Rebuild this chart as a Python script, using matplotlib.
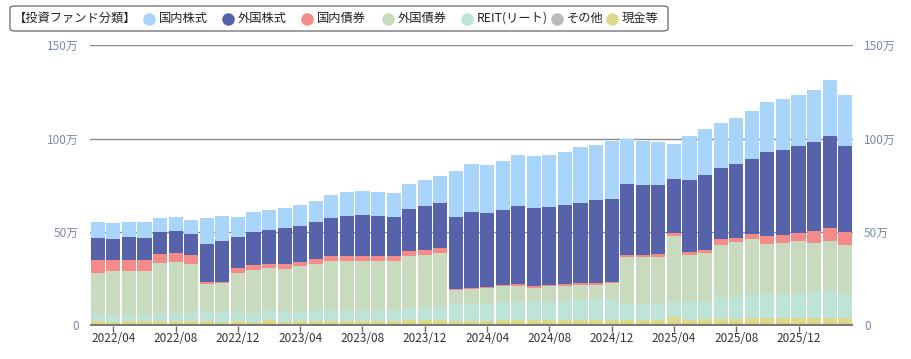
import numpy as np
import matplotlib
import matplotlib.pyplot as plt
from matplotlib.patches import FancyBboxPatch
from matplotlib.lines import Line2D

plt.rcParams['font.family'] = ['Noto Sans CJK JP', 'DejaVu Sans']

# months 2022/03 .. 2026/03
months = []
for y in range(2022, 2027):
    for m in range(1, 13):
        if (y, m) >= (2022, 3) and (y, m) <= (2026, 3):
            months.append("%d/%02d" % (y, m))

# values in 万円, bottom -> top
cash = [2.2, 2.1, 2.2, 2.2, 2.2, 2.2, 2.4, 2.5, 2.1, 2.4, 2.1, 3.1, 2.1, 2.4, 2.4, 2.4,
        2.4, 2.4, 2.2, 2.2, 2.8, 3.0, 2.8, 2.4, 2.6, 2.6, 3.0, 3.0, 2.8, 2.8, 3.0, 3.1,
        2.8, 2.8, 3.0, 3.0, 3.0, 4.8, 3.0, 3.3, 3.3, 3.3, 3.9, 4.0, 4.0, 4.0, 4.0, 4.0, 4.0]
other = [0.0] * 49
reit = [4.0, 3.5, 3.4, 3.4, 4.5, 4.5, 4.5, 4.7, 4.9, 4.5, 4.6, 5.1, 5.2, 4.7, 5.4, 5.8,
        5.8, 5.9, 6.0, 6.0, 6.4, 6.2, 7.0, 9.2, 9.1, 9.1, 9.6, 9.6, 9.8, 9.8, 10.2, 10.8,
        10.7, 10.7, 8.7, 8.7, 8.6, 8.4, 9.3, 9.0, 11.7, 11.8, 12.3, 12.9, 12.9, 13.5, 13.8, 14.2, 13.1]
foreign_bond = [21.7, 23.4, 23.7, 23.7, 26.7, 27.3, 26.2, 15.2, 15.5, 21.1, 22.8, 22.4, 23.1, 24.5, 25.3, 26.3,
                26.3, 26.4, 26.5, 26.3, 28.2, 28.7, 29.0, 7.5, 7.7, 8.1, 8.3, 8.6, 7.7, 8.3, 7.7, 7.5,
                8.3, 9.0, 24.9, 25.1, 25.2, 34.9, 25.2, 26.3, 28.3, 29.3, 29.8, 26.9, 27.1, 27.8, 26.2, 27.1, 26.2]
domestic_bond = [7.3, 6.2, 5.9, 5.9, 5.0, 5.0, 4.8, 0.6, 1.0, 2.7, 2.7, 2.5, 2.7, 2.5, 2.3, 2.5,
                 2.5, 2.7, 2.7, 2.7, 2.7, 2.7, 2.9, 0.4, 0.6, 0.7, 0.9, 1.1, 0.9, 0.9, 1.1, 1.1,
                 1.0, 0.9, 1.1, 1.1, 1.3, 1.6, 1.8, 2.0, 2.7, 2.6, 3.0, 4.0, 4.3, 4.3, 6.3, 6.8, 6.5]
foreign_stock = [11.7, 10.9, 12.0, 11.5, 11.5, 11.4, 11.1, 20.7, 21.5, 16.5, 17.7, 17.9, 18.8, 19.0, 19.7, 20.6,
                 21.3, 21.5, 20.9, 20.8, 22.2, 23.3, 24.0, 38.5, 40.7, 39.4, 39.9, 41.8, 41.6, 41.6, 42.6, 43.2,
                 44.3, 44.4, 38.2, 37.5, 37.1, 28.9, 38.4, 39.8, 38.1, 39.3, 40.3, 45.1, 45.3, 46.2, 47.6, 49.4, 46.4]
domestic_stock = [8.2, 8.5, 8.4, 8.4, 7.4, 7.4, 7.2, 13.6, 13.8, 10.6, 10.6, 10.6, 10.7, 11.1, 11.3, 12.0,
                  12.9, 12.9, 12.9, 12.7, 13.2, 13.8, 14.1, 24.5, 25.6, 25.9, 26.2, 27.0, 27.8, 27.7, 28.1, 29.7,
                  29.4, 30.9, 23.8, 23.3, 22.9, 18.5, 23.7, 24.7, 24.2, 24.7, 25.5, 26.7, 27.6, 27.6, 28.2, 30.0, 27.2]

series = [
    ("現金等", cash, "#ddd98a"),
    ("その他", other, "#bbbbbb"),
    ("REIT(リート)", reit, "#bde4d7"),
    ("外国債券", foreign_bond, "#c9dbbe"),
    ("国内債券", domestic_bond, "#f58b88"),
    ("外国株式", foreign_stock, "#5663ab"),
    ("国内株式", domestic_stock, "#aad5fb"),
]
legend_order = ["国内株式", "外国株式", "国内債券", "外国債券", "REIT(リート)", "その他", "現金等"]

fig = plt.figure(figsize=(9.11, 3.59), dpi=100)
ax = fig.add_axes([90/911, (359-325.5)/359, (853-90)/911, (325.5-45)/359])

x = np.arange(len(months))
bottom = np.zeros(len(months))
for name, vals, col in series:
    vals = np.array(vals)
    ax.bar(x, vals, bottom=bottom, width=0.9, color=col, linewidth=0, zorder=3)
    bottom += vals

ax.set_xlim(-0.5, len(months) - 0.5)
ax.set_ylim(0, 150)

# grid
for v in [50, 100, 150]:
    ax.axhline(v, color="#8a8a8a", linewidth=1.0, zorder=2)
ax.axhline(0, color="#7a7a7a", linewidth=3, zorder=4)

for s in ax.spines.values():
    s.set_visible(False)

yt = [0, 50, 100, 150]
ylab = ["0", "50万", "100万", "150万"]
ax.set_yticks(yt)
ax.set_yticklabels(ylab)
ax.tick_params(axis="y", length=0, labelsize=8.5, labelcolor="#7d8aa4", pad=8,
               labelleft=True, labelright=True)

xt = [i for i, m in enumerate(months) if m.endswith(("/04", "/08", "/12"))]
ax.set_xticks(xt)
ax.set_xticklabels([months[i] for i in xt])
ax.tick_params(axis="x", length=4, width=1, color="#666666", labelsize=8.5,
               labelcolor="#333333", pad=1)

# legend box
fig.add_artist(FancyBboxPatch((10/911, 1 - 31/359), 658/911, 25/359,
                              boxstyle="round,pad=0,rounding_size=0.006",
                              transform=fig.transFigure, facecolor="white",
                              edgecolor="#777777", linewidth=1))
ly = 1 - 18.5/359
fig.text(14/911, ly, "【投資ファンド分類】", fontsize=8.8, va="center", color="#222222")
cols = {n: c for n, _, c in series}
circle_x = [149, 228, 307, 388, 467, 557, 612]
for n, cx in zip(legend_order, circle_x):
    fig.add_artist(Line2D([cx/911], [ly], marker="o", markersize=8, color=cols[n],
                          linestyle="none", transform=fig.transFigure))
    fig.text((cx + 10)/911, ly, n, fontsize=8.8, va="center", color="#222222")

fig.savefig("out.png", dpi=100)
